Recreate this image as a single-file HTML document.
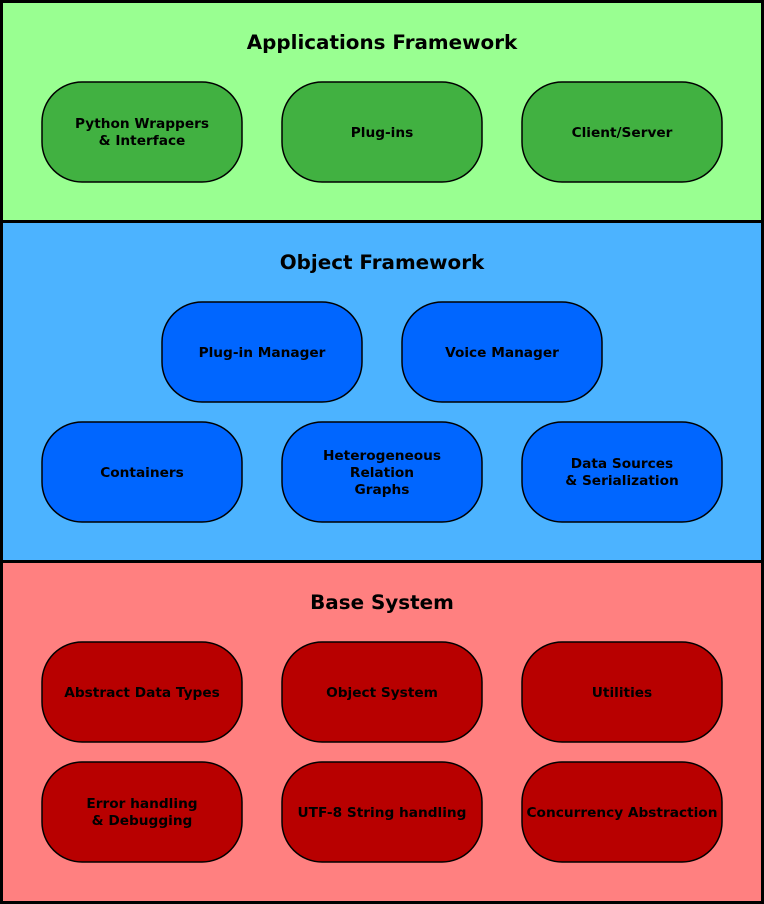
<!DOCTYPE html>
<html><head><meta charset="utf-8"><style>
html,body{margin:0;padding:0;background:#fff}
svg{display:block}
text{font-family:"DejaVu Sans","Liberation Sans",sans-serif;font-weight:bold;fill:#000;text-anchor:middle}
.t{font-size:19.9px}
.b{font-size:13.7px}
</style></head><body>
<svg width="764" height="904" viewBox="0 0 764 904" xmlns="http://www.w3.org/2000/svg">
<rect x="1.5" y="1.5" width="761" height="220" fill="#99ff91" stroke="#000" stroke-width="3"/>
<rect x="1.5" y="221.5" width="761" height="340" fill="#4cb3ff" stroke="#000" stroke-width="3"/>
<rect x="1.5" y="561.5" width="761" height="341" fill="#ff8080" stroke="#000" stroke-width="3"/>

<text class="t" x="382" y="49">Applications Framework</text>
<text class="t" x="382" y="269">Object Framework</text>
<text class="t" x="382" y="609">Base System</text>

<g stroke="#000" stroke-width="1.5" fill="#41b141">
<rect x="42" y="82" width="200" height="100" rx="40"/>
<rect x="282" y="82" width="200" height="100" rx="40"/>
<rect x="522" y="82" width="200" height="100" rx="40"/>
</g>
<g stroke="#000" stroke-width="1.5" fill="#0066ff">
<rect x="162" y="302" width="200" height="100" rx="40"/>
<rect x="402" y="302" width="200" height="100" rx="40"/>
<rect x="42" y="422" width="200" height="100" rx="40"/>
<rect x="282" y="422" width="200" height="100" rx="40"/>
<rect x="522" y="422" width="200" height="100" rx="40"/>
</g>
<g stroke="#000" stroke-width="1.5" fill="#b80000">
<rect x="42" y="642" width="200" height="100" rx="40"/>
<rect x="282" y="642" width="200" height="100" rx="40"/>
<rect x="522" y="642" width="200" height="100" rx="40"/>
<rect x="42" y="762" width="200" height="100" rx="40"/>
<rect x="282" y="762" width="200" height="100" rx="40"/>
<rect x="522" y="762" width="200" height="100" rx="40"/>
</g>

<text class="b" x="142" y="128">Python Wrappers</text>
<text class="b" x="142" y="145">&amp; Interface</text>
<text class="b" x="382" y="137">Plug-ins</text>
<text class="b" x="622" y="137">Client/Server</text>

<text class="b" x="262" y="357">Plug-in Manager</text>
<text class="b" x="502" y="357">Voice Manager</text>
<text class="b" x="142" y="477">Containers</text>
<text class="b" x="382" y="460">Heterogeneous</text>
<text class="b" x="382" y="477">Relation</text>
<text class="b" x="382" y="494">Graphs</text>
<text class="b" x="622" y="468">Data Sources</text>
<text class="b" x="622" y="485">&amp; Serialization</text>

<text class="b" x="142" y="697">Abstract Data Types</text>
<text class="b" x="382" y="697">Object System</text>
<text class="b" x="622" y="697">Utilities</text>
<text class="b" x="142" y="808">Error handling</text>
<text class="b" x="142" y="825">&amp; Debugging</text>
<text class="b" x="382" y="817">UTF-8 String handling</text>
<text class="b" x="622" y="817">Concurrency Abstraction</text>
</svg>
</body></html>
